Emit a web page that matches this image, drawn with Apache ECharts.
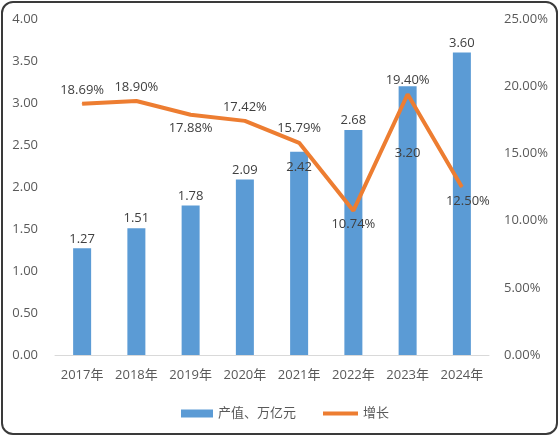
<!DOCTYPE html>
<html><head><meta charset="utf-8">
<script src="https://cdn.jsdelivr.net/npm/echarts@6/dist/echarts.min.js"></script>
<style>
html,body{margin:0;padding:0;background:#fff;}
#c{width:559px;height:436px;position:absolute;left:0;top:0;}
#b{position:absolute;left:1px;top:1px;width:557px;height:434px;box-sizing:border-box;border:2px solid #3a3a3a;border-radius:12px;pointer-events:none;}
</style></head>
<body><div id="c"></div><div id="b"></div>
<script>
const categories = ['2017年','2018年','2019年','2020年','2021年','2022年','2023年','2024年'];
const outputValues = [1.27, 1.51, 1.78, 2.09, 2.42, 2.68, 3.20, 3.60];
const growthValues = [18.69, 18.90, 17.88, 17.42, 15.79, 10.74, 19.40, 12.50];
const barName = '产值、万亿元';
const lineName = '增长';

const font = '"Open Sans", "Noto Sans CJK SC", sans-serif';
const txt = '#595959';

const barLabelPos = [null,null,null,null,{position:'insideTop',offset:[0,6]},null,{position:'insideTop',offset:[0,58]},null];
const lineLabelPos = ['top','top','bottom','top','top','bottom','top',{position:'bottom',offset:[6,0]}];

const barData = outputValues.map((v,i)=>{
  const o = {value:v};
  if (barLabelPos[i]) o.label = barLabelPos[i];
  return o;
});
const lineData = growthValues.map((v,i)=>{
  const p = lineLabelPos[i];
  return {value:v, label: typeof p === 'string' ? {position:p} : p};
});

const chart = echarts.init(document.getElementById('c'));
chart.setOption({
  animation:false,
  textStyle:{fontFamily:font},
  grid:{left:55,right:70,top:19,bottom:81},
  legend:[
    {data:[{name:barName,icon:'rect'}],left:176,top:402,itemWidth:32,itemHeight:8,itemGap:4,
     textStyle:{color:txt,fontSize:13,fontFamily:font}},
    {data:[{name:lineName,icon:'rect'}],left:318,top:402,itemWidth:35,itemHeight:4,itemGap:4,
     textStyle:{color:txt,fontSize:13,fontFamily:font}}
  ],
  xAxis:{type:'category',data:categories,
    axisLine:{lineStyle:{color:'#d9d9d9',width:1}},axisTick:{show:false},
    axisLabel:{color:txt,fontSize:13,margin:14,interval:0}},
  yAxis:[
    {type:'value',min:0,max:4,interval:0.5,splitLine:{show:false},
     axisLabel:{color:txt,fontSize:13,margin:17,formatter:v=>v.toFixed(2)}},
    {type:'value',min:0,max:25,interval:5,splitLine:{show:false},
     axisLabel:{color:txt,fontSize:13,margin:15,formatter:v=>v.toFixed(2)+'%'}}
  ],
  series:[
    {name:barName,type:'bar',data:barData,barWidth:18,itemStyle:{color:'#5b9bd5'},
     label:{show:true,position:'top',color:'#404040',fontSize:13,distance:3,formatter:p=>p.value.toFixed(2)}},
    {name:lineName,type:'line',yAxisIndex:1,data:lineData,symbol:'circle',symbolSize:1,
     itemStyle:{color:'#ed7d31'},lineStyle:{color:'#ed7d31',width:4},
     label:{show:true,color:'#404040',fontSize:13,distance:7,formatter:p=>p.value.toFixed(2)+'%'}}
  ]
});
</script></body></html>
